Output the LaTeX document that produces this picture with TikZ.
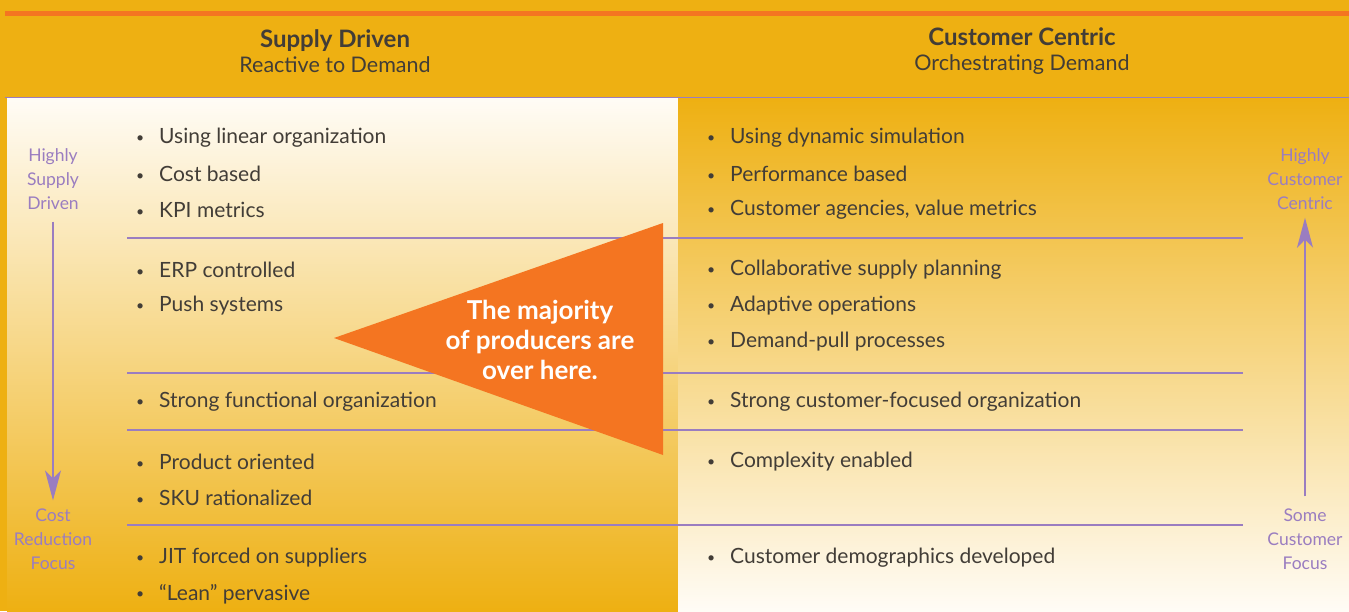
\documentclass[tikz,border=0pt]{standalone}
\usepackage{fontspec}
\setmainfont{Lato}
\usetikzlibrary{arrows.meta}
\usetikzlibrary{positioning}
\definecolor{gold}{HTML}{EEB012}
\definecolor{palegold}{HTML}{FFFCF6}
\definecolor{tangerine}{HTML}{F47521}
\definecolor{lavender}{HTML}{9A7DC0}
\definecolor{ink}{HTML}{423D37}

\tikzset{
  item/.style={anchor=west, inner sep=0pt, text=ink,
    font=\fontsize{21}{25}\selectfont},
  side/.style={align=center, inner sep=0pt, text=lavender,
    font=\fontsize{17.5}{24}\selectfont},
  scale arrow/.style={-{Stealth[length=30pt,width=16pt,inset=8pt]}, lavender,
    line width=1.4pt, shorten <=12pt, shorten >=8pt},
  rule/.style={lavender, line width=1.2pt},
}
\newcommand{\bul}[1]{\makebox[23pt][l]{\raisebox{1.5pt}{\fontsize{14}{14}\selectfont\textbullet}}#1}

\begin{document}
\begin{tikzpicture}[x=1pt,y=-1pt]
\useasboundingbox (0,0) rectangle (1349,611);
\fill[gold] (0,0) rectangle (1349,611);

% top band
\fill[tangerine] (5,11) rectangle (1349,16);
\node[align=center, inner sep=0pt, text=ink, font=\fontsize{21.5}{25}\selectfont]
  (supply) at (335,51) {{\fontsize{24}{25}\selectfont\bfseries Supply Driven}\\Reactive to Demand};
\node[align=center, inner sep=0pt, text=ink, font=\fontsize{21.5}{25}\selectfont]
  (centric) at (1022,51) {{\fontsize{24}{25}\selectfont\bfseries Customer Centric}\\Orchestrating Demand};

% the two columns
\shade[top color=palegold, bottom color=gold] (7,98) rectangle (678,611);
\shade[top color=gold, bottom color=palegold] (678,98) rectangle (1349,611);
\draw[rule] (5,97.5) -- (1349,97.5);

% row dividers
\foreach \y in {238,373,430,525}
  \draw[rule] (127,\y) -- (1243,\y);

% supply driven items
\foreach \y/\t [count=\i] in {138/Using linear organization, 174/Cost based,
    210/KPI metrics, 270/ERP controlled, 306/Push systems,
    402/Strong functional organization, 462/Product oriented,
    498/SKU rationalized, 558/JIT forced on suppliers, 594/``Lean'' pervasive}
  \node[item] (s\i) at (136,\y) {\bul{\t}};

% customer centric items
\foreach \y/\t [count=\i] in {138/Using dynamic simulation, 174/Performance based,
    210/{Customer agencies, value metrics}, 270/Collaborative supply planning,
    306/Adaptive operations, 342/Demand-pull processes,
    402/Strong customer-focused organization, 462/Complexity enabled,
    558/Customer demographics developed}
  \node[item] (c\i) at (707,\y) {\bul{\t}};

% pointer
\fill[tangerine] (334,338) -- (663,223) -- (663,455) -- cycle;
\node[align=center, inner sep=0pt, text=white, font=\fontsize{26}{30}\selectfont\bfseries]
  (majority) at (540,340) {The majority\\of producers are\\over here.};

% side scales
\node[side] (hsd) at (53,179) {Highly\\Supply\\Driven};
\node[side] (crf) at (53,539) {Cost\\Reduction\\Focus};
\node[side] (hcc) at (1305,179) {Highly\\Customer\\Centric};
\node[side] (scf) at (1305,539) {Some\\Customer\\Focus};
\draw[scale arrow] (hsd) -- (crf);
\draw[scale arrow] (scf) -- (hcc);
\end{tikzpicture}
\end{document}
